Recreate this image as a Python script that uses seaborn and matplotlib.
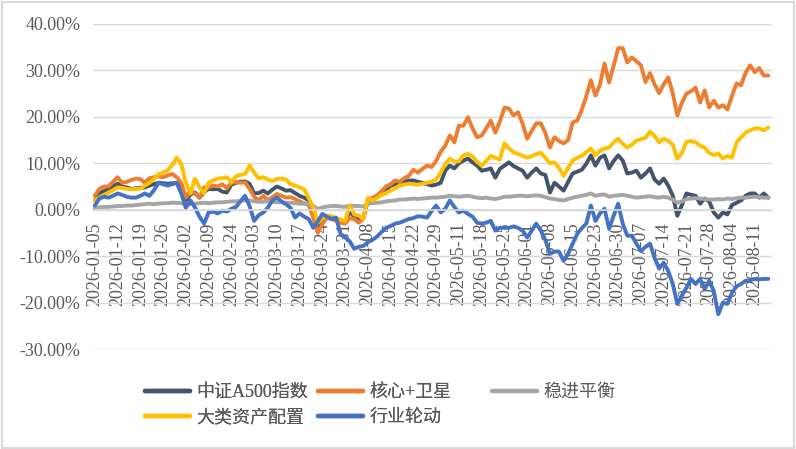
import numpy as np
import pandas as pd
import matplotlib
matplotlib.use("Agg")
import matplotlib.pyplot as plt
from matplotlib.patches import Rectangle
from matplotlib.ticker import FuncFormatter
import seaborn as sns

# trading days 2026-01-05 .. 2026-08-14 (SSE holidays removed)
START, END = "2026-01-05", "2026-08-14"
HOLIDAYS = ["2026-02-16", "2026-02-17", "2026-02-18", "2026-02-19", "2026-02-20",
            "2026-02-23", "2026-04-06", "2026-05-01", "2026-05-04", "2026-05-05",
            "2026-06-19"]

SERIES = ["中证A500指数", "核心+卫星", "稳进平衡", "大类资产配置", "行业轮动"]
COLORS = ["#44546A", "#ED7D31", "#A5A5A5", "#FFC000", "#4472C4"]

# cumulative return, %
a500 = [2.0, 3.5, 4.0, 4.5, 5.0, 5.6, 5.0, 4.8, 4.5, 4.6,
        4.7, 4.8, 5.2, 5.5, 5.8, 5.7, 5.6, 5.7, 5.8, 4.8,
        2.0, 3.3, 3.7, 2.6, 3.8, 4.5, 4.4, 4.5, 3.9, 3.7,
        5.4, 5.8, 6.0, 6.1, 5.6, 3.5, 3.6, 4.1, 3.5, 4.3,
        5.0, 4.6, 4.1, 4.2, 3.6, 3.0, 2.6, 2.0, 0.5, -3.5,
        -2.2, -1.7, -1.5, -2.0, -2.4, -2.6, -0.4, -1.5, -2.0, -1.6,
        2.0, 2.4, 3.0, 3.7, 4.4, 5.2, 5.5, 5.8, 6.0, 6.3,
        6.3, 6.0, 5.8, 5.5, 5.2, 5.4, 5.8, 8.4, 9.5, 8.9,
        10.0, 10.6, 11.0, 10.2, 9.5, 8.4, 8.6, 8.9, 6.9, 8.8,
        9.5, 10.2, 9.4, 8.9, 8.4, 6.9, 8.0, 8.9, 7.8, 7.5,
        3.7, 5.8, 5.0, 4.1, 6.0, 7.8, 8.2, 8.6, 9.9, 11.7,
        9.5, 11.2, 11.7, 8.9, 10.5, 11.7, 10.6, 7.8, 8.0, 8.4,
        6.9, 7.8, 8.9, 6.5, 5.6, 6.7, 5.2, 3.0, -1.3, 1.0,
        3.5, 3.2, 3.0, 1.3, 2.4, 1.8, -0.6, -1.7, -0.6, -1.0,
        1.0, 1.5, 2.0, 3.0, 3.5, 3.5, 2.6, 3.5, 2.6]

core_sat = [3.0, 4.5, 5.0, 5.0, 6.0, 7.0, 5.8, 6.0, 6.4, 6.7,
            6.6, 5.8, 6.8, 7.0, 7.2, 7.0, 7.4, 7.7, 7.0, 5.8,
            2.6, 4.1, 3.5, 2.6, 4.8, 4.8, 5.2, 5.0, 5.5, 4.6,
            5.8, 6.0, 5.8, 5.9, 4.5, 2.8, 2.0, 3.0, 2.0, 2.7,
            3.4, 3.0, 2.6, 2.7, 2.3, 1.8, 1.4, 1.0, -1.7, -5.0,
            -3.0, -1.7, -2.0, -2.4, -2.8, -3.0, -1.8, -2.0, -2.8, -2.0,
            2.0, 2.6, 3.0, 4.0, 5.0, 5.5, 6.3, 6.0, 6.8, 7.3,
            8.6, 8.0, 8.8, 9.5, 9.2, 10.5, 12.5, 13.8, 16.0, 14.5,
            18.1, 18.1, 19.9, 17.5, 15.6, 16.0, 17.5, 19.2, 16.6, 19.0,
            22.0, 21.8, 20.3, 21.0, 18.5, 15.3, 17.0, 18.6, 18.6, 16.5,
            13.4, 15.6, 14.8, 14.3, 15.0, 18.8, 19.2, 21.5, 24.5, 27.9,
            24.6, 27.0, 31.5, 27.4, 31.0, 34.8, 34.8, 31.7, 32.8, 32.0,
            31.1, 27.5, 29.4, 27.0, 25.1, 27.0, 28.5, 25.0, 20.3, 23.0,
            25.0, 25.5, 26.3, 23.1, 25.7, 22.0, 23.5, 22.0, 22.5, 21.6,
            24.5, 27.2, 26.8, 29.5, 31.1, 29.6, 30.5, 28.9, 28.9]

steady = [0.4, 0.5, 0.6, 0.6, 0.7, 0.8, 0.8, 0.9, 0.9, 1.0,
          1.1, 1.2, 1.3, 1.2, 1.3, 1.4, 1.4, 1.5, 1.5, 1.4,
          1.3, 1.2, 1.3, 1.4, 1.5, 1.4, 1.5, 1.6, 1.6, 1.7,
          1.8, 1.8, 1.9, 2.0, 2.0, 1.8, 1.7, 1.7, 1.8, 1.7,
          1.6, 1.6, 1.5, 1.5, 1.4, 1.3, 1.3, 1.2, 0.8, 0.2,
          0.5, 0.7, 0.8, 0.8, 0.7, 0.6, 0.9, 0.8, 0.8, 0.7,
          1.3, 1.4, 1.5, 1.6, 1.8, 1.9, 2.0, 2.2, 2.2, 2.3,
          2.4, 2.3, 2.4, 2.5, 2.6, 2.6, 2.7, 2.8, 3.0, 2.9,
          2.8, 2.9, 3.0, 2.8, 2.6, 2.5, 2.6, 2.4, 2.3, 2.5,
          2.8, 2.8, 2.9, 3.0, 3.0, 2.9, 3.0, 3.1, 3.0, 2.7,
          2.4, 2.3, 2.1, 2.0, 2.3, 2.6, 2.8, 3.0, 3.2, 3.5,
          3.0, 3.2, 3.3, 2.8, 3.0, 3.1, 3.2, 3.0, 2.8, 2.6,
          2.7, 2.8, 2.9, 2.7, 2.6, 2.8, 2.6, 2.2, 1.5, 1.8,
          2.3, 2.4, 2.5, 2.4, 2.3, 2.2, 2.2, 2.3, 2.2, 2.4,
          2.3, 2.5, 2.6, 2.6, 2.7, 2.8, 2.7, 2.6, 2.6]

alloc = [2.0, 2.6, 3.2, 3.7, 4.2, 4.8, 4.7, 4.5, 4.4, 4.5,
         4.5, 5.2, 5.8, 6.6, 7.6, 8.0, 8.5, 9.6, 11.2, 9.8,
         5.8, 3.5, 6.7, 4.8, 3.5, 5.8, 6.3, 6.7, 6.8, 7.0,
         5.9, 7.2, 7.5, 7.7, 9.5, 8.0, 6.7, 7.0, 6.5, 6.2,
         6.6, 6.7, 6.5, 5.5, 5.2, 4.8, 4.4, 2.5, 0.5, -2.8,
         -1.8, -1.3, -1.4, -1.8, -2.1, -2.4, 0.9, -1.0, -1.3, -2.0,
         2.6, 2.0, 2.5, 3.2, 3.6, 4.1, 4.6, 5.2, 5.4, 5.6,
         5.5, 5.4, 5.6, 5.8, 6.1, 6.5, 8.0, 9.8, 11.0, 10.4,
         10.4, 11.7, 12.0, 11.5, 10.3, 9.5, 10.5, 11.6, 11.2, 10.8,
         14.3, 13.2, 12.4, 12.0, 11.6, 11.2, 11.5, 12.0, 12.3, 11.2,
         10.0, 10.2, 9.0, 7.3, 9.0, 10.6, 11.2, 11.6, 12.4, 13.2,
         11.7, 12.7, 13.2, 13.4, 14.5, 15.3, 14.2, 13.4, 14.0, 14.9,
         15.2, 15.5, 16.8, 15.9, 14.5, 15.3, 14.8, 14.0, 11.0, 12.2,
         14.6, 14.8, 14.5, 13.8, 13.4, 12.2, 11.8, 12.1, 11.0, 11.6,
         11.2, 14.5, 15.6, 16.6, 17.1, 17.5, 17.5, 17.1, 17.7]

rotation = [0.9, 2.4, 2.8, 2.6, 3.0, 3.5, 3.2, 2.8, 2.6, 2.6,
            3.0, 3.5, 3.0, 4.2, 5.8, 5.5, 5.2, 5.5, 5.8, 3.5,
            0.4, 2.0, 0.5, -1.5, -3.0, -0.6, -0.4, -0.8, -0.2, -0.4,
            0.2, 0.6, 1.8, 3.0, 0.8, -2.4, -1.2, -0.6, 0.4, 2.0,
            2.6, 1.8, 1.2, 0.4, -1.7, -0.8, -1.5, -2.0, -3.9, -2.5,
            -0.9, -1.5, -2.0, -1.7, -5.2, -6.0, -6.8, -8.4, -8.0, -7.8,
            -7.0, -6.5, -5.8, -4.8, -3.9, -3.5, -3.0, -2.8, -2.4, -2.0,
            -1.8, -1.4, -1.5, -1.7, -0.3, 0.9, -0.6, 0.2, 2.0, 0.6,
            -0.6, -0.2, -0.9, -1.5, -2.8, -3.0, -2.8, -2.4, -4.5, -3.9,
            -3.9, -3.9, -3.6, -3.9, -4.5, -6.0, -4.5, -3.0, -4.5, -6.5,
            -9.5, -9.0, -9.0, -11.0, -9.5, -7.3, -5.2, -4.0, -3.0, 0.9,
            -2.4, -0.8, 0.2, -4.1, -1.3, 1.3, -3.0, -5.6, -5.6, -7.3,
            -8.9, -8.0, -7.3, -10.4, -12.7, -11.4, -13.2, -16.0, -20.3, -18.5,
            -16.8, -14.9, -16.0, -14.9, -17.1, -15.3, -17.5, -22.5, -20.0, -20.3,
            -17.9, -16.5, -16.0, -15.3, -15.2, -14.9, -15.0, -14.9, -14.9]

GRAY_TXT = "#595959"
GRID = "#D9D9D9"


def main():
    dates = pd.bdate_range(START, END, freq="C", holidays=HOLIDAYS)
    n = len(dates)
    values = [a500, core_sat, steady, alloc, rotation]

    df = pd.concat([pd.DataFrame({"idx": np.arange(n), "ret": v, "series": s})
                    for s, v in zip(SERIES, values)], ignore_index=True)

    sns.set_theme(style="white")
    plt.rcParams["font.family"] = ["Liberation Serif", "Noto Sans CJK SC", "DejaVu Sans"]

    fig = plt.figure(figsize=(7.96, 4.49), dpi=100)
    ax = fig.add_axes([93 / 796, 1 - 349 / 449, (772 - 93) / 796, (349 - 24) / 449])

    sns.lineplot(data=df, x="idx", y="ret", hue="series", hue_order=SERIES,
                 palette=COLORS, linewidth=2.8, ax=ax, legend=True)

    # x axis crosses at 0 (set before ticks: set_position resets them)
    for s in ["top", "right", "left"]:
        ax.spines[s].set_visible(False)
    ax.spines["bottom"].set_position(("data", 0))
    ax.spines["bottom"].set_color(GRID)

    ax.set_xlim(-0.4, n - 0.2)
    ax.set_ylim(-30, 40)
    ax.set_yticks(np.arange(-30, 41, 10))
    ax.yaxis.set_major_formatter(FuncFormatter(lambda v, p: f"{v:.2f}%"))
    ax.grid(axis="y", color=GRID, linewidth=1)
    ax.set_axisbelow(True)

    ticks = np.arange(0, n, 5)
    ax.set_xticks(ticks)
    ax.set_xticklabels([dates[i].strftime("%Y-%m-%d") for i in ticks])
    ax.set_xlabel("")
    ax.set_ylabel("")
    ax.tick_params(axis="x", length=0, pad=9, labelsize=13, labelcolor=GRAY_TXT,
                   labelrotation=90)
    ax.tick_params(axis="y", length=0, pad=9, labelsize=13, labelcolor=GRAY_TXT)

    handles, labels = ax.get_legend_handles_labels()
    ax.get_legend().remove()
    hmap = dict(zip(labels, handles))
    for h in handles:
        h.set_linewidth(3.2)

    opts = dict(frameon=False, fontsize=13, handlelength=2.5, handletextpad=0.35,
                borderpad=0, borderaxespad=0, labelspacing=0.45, labelcolor=GRAY_TXT,
                loc="upper left")
    order = ["中证A500指数", "大类资产配置", "核心+卫星", "行业轮动"]
    leg1 = fig.legend([hmap[k] for k in order], order, ncol=2, columnspacing=0.55,
                      bbox_to_anchor=(145 / 796, 1 - 384 / 449), **opts)
    fig.legend([hmap["稳进平衡"]], ["稳进平衡"],
               bbox_to_anchor=(492 / 796, 1 - 384 / 449), **opts)
    fig.add_artist(leg1)

    fig.patches.append(Rectangle((0.002, 0.003), 0.995, 0.993, transform=fig.transFigure,
                                 fill=False, edgecolor=GRID, linewidth=1.5))

    fig.savefig("out.png", dpi=100)
    plt.close(fig)


if __name__ == "__main__":
    main()
